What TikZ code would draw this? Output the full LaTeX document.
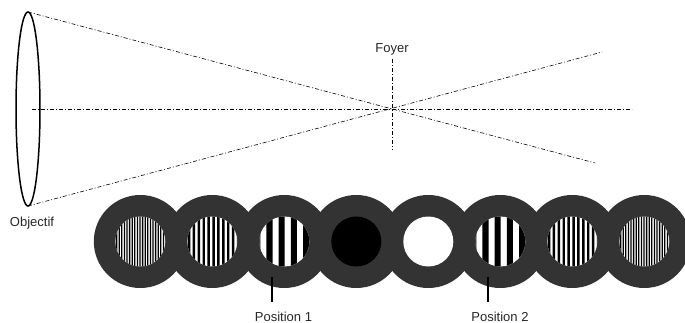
\documentclass[tikz,border=0pt]{standalone}
\usepackage{fontspec}
\setmainfont{Liberation Sans}
\definecolor{discgray}{HTML}{333333}
\tikzset{
    axisline/.style={line width=0.6pt, dash pattern=on 4pt off 2pt on 1pt off 2pt},
    ticktrait/.style={line width=1.1pt},
    legende/.style={inner sep=0pt, font=\fontsize{13}{13}\selectfont, text=black!85},
}
% disc with a striped window: centre x, period, phase
\newcommand{\grating}[3]{
    \fill[discgray] (#1,241.5) circle [radius=46.5pt];
    \begin{scope}
        \clip (#1,241.5) circle [radius=25pt];
        \fill[white] (#1-26,215) rectangle (#1+26,268);
        \fill[black] \foreach \k in {-12,...,12} {
            ({#1+#3+\k*#2},215) rectangle ({#1+#3+\k*#2+0.5*#2},268)
        };
    \end{scope}
}
\begin{document}
\begin{tikzpicture}[x=1pt, y=-1pt]
    \useasboundingbox (0,0) rectangle (685,323);

    % Objectif
    \draw[line width=1.5pt] (28,109) ellipse [x radius=12pt, y radius=97pt];
    \node[legende] (objectif) at (32,223) {Objectif};

    % Rayons
    \coordinate (objhaut) at (28,12);
    \coordinate (objbas) at (28,206);
    \coordinate (finbas) at (595,163);
    \coordinate (finhaut) at (602,52);
    \draw[axisline] (objhaut) -- (finbas);
    \draw[axisline] (objbas) -- (finhaut);

    % Axe optique et plan focal
    \coordinate (axeg) at (32,109);
    \coordinate (axed) at (632,109);
    \draw[axisline] (axeg) -- (axed);
    \node[legende] (foyer) at (392,49) {Foyer};
    \coordinate (focalh) at (392,59);
    \coordinate (focalb) at (392,150);
    \draw[axisline] (focalh) -- (focalb);

    % Mires
    \grating{140.3}{2.6}{-0.95}
    \grating{212.3}{4.9}{0}
    \grating{644.3}{2.6}{-0.95}
    \grating{572.3}{4.9}{0}
    \fill[discgray] (356.3,241.5) circle [radius=46.5pt];
    \fill[discgray] (428.3,241.5) circle [radius=46.5pt];
    \grating{284.3}{12.2}{-5.7}
    \grating{500.3}{12.2}{-5.7}
    \fill[black] (356.3,241.5) circle [radius=25pt];
    \fill[white] (428.3,241.5) circle [radius=25pt];

    % Positions
    \coordinate (traita) at (272,277);
    \coordinate (traitb) at (272,302);
    \draw[ticktrait] (traita) -- (traitb);
    \node[legende] (pos1) at (283.5,317) {Position 1};
    \coordinate (traitc) at (488,277);
    \coordinate (traitd) at (488,302);
    \draw[ticktrait] (traitc) -- (traitd);
    \node[legende] (pos2) at (500,317) {Position 2};
\end{tikzpicture}
\end{document}
